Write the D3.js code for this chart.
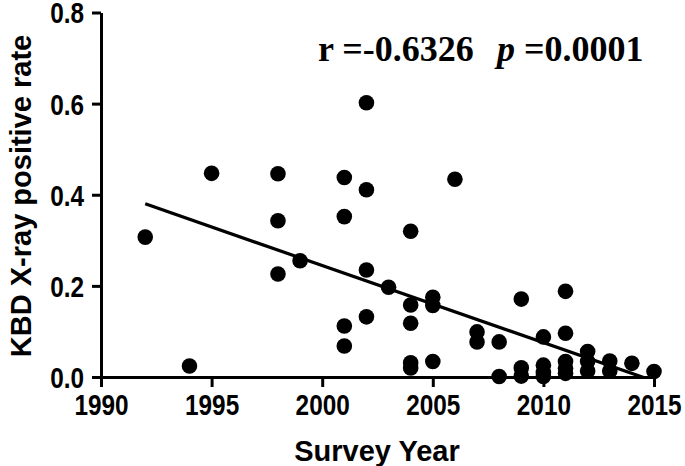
<!DOCTYPE html>
<html>
<head>
<style>
  body { margin: 0; background: #fff; }
  svg text { fill: #000; }
</style>
<script src="https://d3js.org/d3.v7.min.js"></script>
</head>
<body>
<script>
// survey points
const years = [1992, 1994, 1995, 1998, 1998, 1998, 1999,
  2001, 2001, 2001, 2001, 2002, 2002, 2002, 2002, 2003,
  2004, 2004, 2004, 2004, 2004, 2005, 2005, 2005, 2006,
  2007, 2007, 2008, 2008, 2009, 2009, 2009,
  2010, 2010, 2010, 2010, 2011, 2011, 2011, 2011, 2011,
  2012, 2012, 2012, 2013, 2013, 2014, 2015];
const rates = [0.307, 0.024, 0.447, 0.446, 0.343, 0.226, 0.255,
  0.438, 0.352, 0.112, 0.068, 0.602, 0.411, 0.235, 0.132, 0.197,
  0.320, 0.158, 0.118, 0.031, 0.020, 0.175, 0.157, 0.034, 0.434,
  0.099, 0.077, 0.077, 0.001, 0.171, 0.020, 0.002,
  0.088, 0.026, 0.010, 0.001, 0.188, 0.096, 0.034, 0.019, 0.008,
  0.056, 0.034, 0.013, 0.035, 0.013, 0.030, 0.012];

// fitted line ends
const fitYears = [1992, 2015];
const fitRates = [0.380, -0.009];

const xTicks = [1990, 1995, 2000, 2005, 2010, 2015];
const yTicks = [0, 0.2, 0.4, 0.6, 0.8];

const w = 685, h = 466;
const padL = 101, padR = 654, padT = 12.5, padB = 377;
const narrow = 0.84; // tick labels are a condensed face

const svg = d3.select("body").append("svg")
  .attr("width", w).attr("height", h);

const x = d3.scaleLinear().domain([1990, 2015]).range([padL, padR]);
const y = d3.scaleLinear().domain([0, 0.8]).range([padB, padT]);

svg.append("clipPath").attr("id", "plotclip")
  .append("rect")
  .attr("x", padL).attr("y", padT)
  .attr("width", padR - padL).attr("height", padB - padT);

// regression line
const line = d3.line().x(d => x(d[0])).y(d => y(d[1]));
svg.append("path")
  .datum(fitYears.map((d, i) => [d, fitRates[i]]))
  .attr("d", line)
  .attr("clip-path", "url(#plotclip)")
  .attr("fill", "none")
  .attr("stroke", "#000")
  .attr("stroke-width", 3.2);

// dots
svg.selectAll("circle.dot")
  .data(years.map((d, i) => [d, rates[i]]))
  .enter().append("circle")
  .attr("class", "dot")
  .attr("cx", d => x(d[0]))
  .attr("cy", d => y(d[1]))
  .attr("r", 7.8)
  .attr("fill", "#000");

const xAxis = svg.append("g")
  .attr("transform", `translate(0,${padB})`)
  .call(d3.axisBottom(x).tickValues(xTicks).tickFormat(d3.format("d"))
    .tickSize(10).tickSizeOuter(0).tickPadding(7));

const yAxis = svg.append("g")
  .attr("transform", `translate(${padL},0)`)
  .call(d3.axisLeft(y).tickValues(yTicks).tickFormat(d3.format(".1f"))
    .tickSize(9).tickSizeOuter(0));

[xAxis, yAxis].forEach(g => {
  g.select(".domain").attr("stroke-width", 3);
  g.selectAll(".tick line").attr("stroke-width", 3);
  g.selectAll(".tick text")
    .style("font-family", "'Liberation Sans', Arial, sans-serif")
    .style("font-weight", "bold")
    .style("font-size", "29px")
    .attr("transform", `scale(${narrow},1)`);
});
yAxis.selectAll(".tick text")
  .attr("x", -17 / narrow)
  .attr("dy", "0.36em");

// axis titles
svg.append("text")
  .attr("x", 377).attr("y", 461)
  .attr("text-anchor", "middle")
  .style("font-family", "'Liberation Sans', Arial, sans-serif")
  .style("font-weight", "bold")
  .style("font-size", "29px")
  .text("Survey Year");

svg.append("text")
  .attr("transform", "translate(31,196) rotate(-90)")
  .attr("text-anchor", "middle")
  .style("font-family", "'Liberation Sans', Arial, sans-serif")
  .style("font-weight", "bold")
  .style("font-size", "29px")
  .text("KBD X-ray positive rate");

// correlation note
const note = svg.append("text")
  .attr("y", 61)
  .style("font-family", "'Liberation Serif', 'Times New Roman', serif")
  .style("font-weight", "bold")
  .style("font-size", "36px");
note.append("tspan").attr("x", 318).text("r =-0.6326");
note.append("tspan").attr("x", 497).style("font-style", "italic").text("p");
note.append("tspan").text(" =0.0001");
</script>
</body>
</html>
